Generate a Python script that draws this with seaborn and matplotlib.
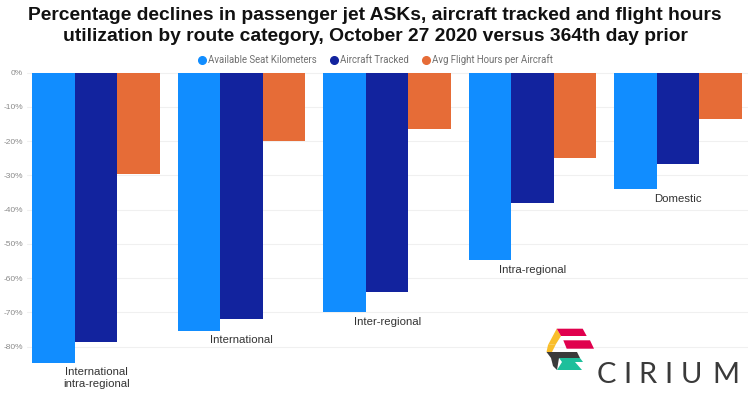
import pandas as pd
import matplotlib.pyplot as plt
import seaborn as sns
from matplotlib.lines import Line2D
from matplotlib.patches import Polygon

# Values (percent change)
categories = ['International\nintra-regional', 'International', 'Inter-regional',
              'Intra-regional', 'Domestic']
series = ['Available Seat Kilometers', 'Aircraft Tracked', 'Avg Flight Hours per Aircraft']
ask_change = [-84.7, -75.4, -69.9, -54.8, -34.0]
tracked_change = [-78.7, -71.8, -64.0, -38.0, -26.7]
hours_change = [-29.6, -20.0, -16.3, -24.8, -13.6]
colors = ['#118DFF', '#12239E', '#E66C37']
y_ticks = [0, -10, -20, -30, -40, -50, -60, -70, -80]

df = pd.DataFrame({
    'Category': categories * 3,
    'Series': [series[0]] * 5 + [series[1]] * 5 + [series[2]] * 5,
    'Change': ask_change + tracked_change + hours_change,
})

sns.set_theme(style='white')
plt.rcParams['font.family'] = ['Liberation Sans', 'DejaVu Sans']

W, H = 750, 396
fig = plt.figure(figsize=(W / 100, H / 100), dpi=100)


def px(x, y):
    return (x / W, 1 - y / H)


# axes placed in pixel terms to match the reference
ax = fig.add_axes([27 / W, 0, (748 - 27) / W, 1 - 71 / H])
sns.barplot(data=df, x='Category', y='Change', hue='Series', order=categories,
            hue_order=series, palette=colors, saturation=1, width=0.877, gap=0,
            linewidth=0, legend=False, ax=ax)

ax.set_xlim(-0.475, 4.48)
ax.set_ylim(-94.4, 0.5)
ax.set_yticks(y_ticks)
ax.set_yticklabels([f'{v}%' for v in y_ticks], color='#8a8a8a', fontsize=6)
ax.tick_params(axis='y', length=0, pad=3)
ax.set_xticks([])
ax.set_xlabel('')
ax.set_ylabel('')
for s in ax.spines.values():
    s.set_visible(False)
ax.grid(axis='y', color='#f0f0f0', linewidth=0.8)
ax.set_axisbelow(True)

# category labels under each group
for i, cat in enumerate(categories):
    low = min(ask_change[i], tracked_change[i], hours_change[i])
    ax.text(i, low - 1.3, cat, ha='center', va='top', fontsize=8.2,
            color='#333333', linespacing=1.25)

# title
fig.text(0.5, 1 - 7 / H,
         'Percentage declines in passenger jet ASKs, aircraft tracked and flight hours\n'
         'utilization by route category, October 27 2020 versus 364th day prior',
         ha='center', va='top', fontsize=13.9, fontweight='bold', color='#111111',
         linespacing=1.3)

# legend
handles = [Line2D([], [], marker='o', linestyle='', markersize=5.5, color=c) for c in colors]
fig.legend(handles, series, loc='center', bbox_to_anchor=(375 / W, 1 - 60 / H), ncol=3,
           frameon=False, labelcolor='#707070', handletextpad=0.1,
           columnspacing=1.3, handlelength=1.0,
           prop={'family': ['Roboto', 'DejaVu Sans'], 'size': 6.9})

# Cirium logo
logo = [
    ('#F9BE2A', [(556.7, 328.7), (561, 336), (556, 344), (548, 345)]),
    ('#F9BE2A', [(548, 345), (556, 344), (552, 352), (546.5, 352)]),
    ('#E0004D', [(556.7, 328.7), (582.7, 328.7), (586.7, 336), (561, 336)]),
    ('#E0004D', [(563.3, 340.3), (590, 340.3), (594, 348.7), (566.7, 348.7)]),
    ('#3A3A3A', [(546.5, 352), (577, 352), (580, 358), (551, 358)]),
    ('#1DBF9B', [(559, 358), (580, 358), (583, 362), (562, 362)]),
    ('#1DBF9B', [(562, 362), (575, 362), (582, 370), (557, 370)]),
    ('#3A3A3A', [(551, 358), (559, 358), (557, 370), (553, 366)]),
]
for col, pts in logo:
    fig.add_artist(Polygon([px(x, y) for x, y in pts], closed=True,
                           transform=fig.transFigure, facecolor=col, edgecolor='none'))

for letter, xc in zip('CIRIUM', [606, 627, 647, 668, 691, 726]):
    fig.text(*px(xc, 383), letter, ha='center', va='baseline', fontsize=21,
             color='#3a3a3a', family=['Lato', 'DejaVu Sans'])

fig.savefig('out.png', dpi=100, facecolor='white')
